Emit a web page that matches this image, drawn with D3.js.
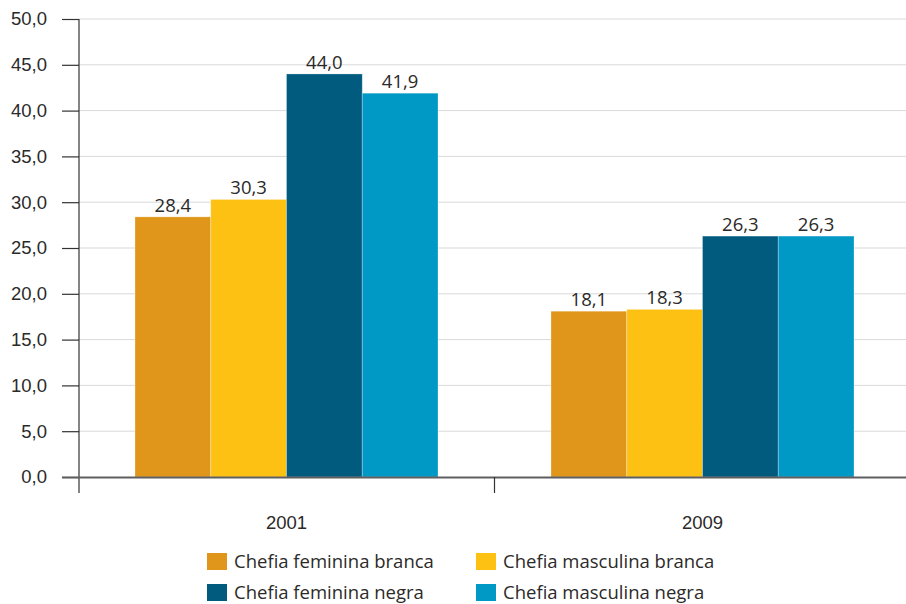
<!DOCTYPE html>
<html>
<head>
<meta charset="utf-8">
<script src="https://cdn.jsdelivr.net/npm/d3@7"></script>
<style>
  html, body { margin: 0; padding: 0; background: #fff; }
  svg { display: block; font-family: "Open Sans", "Noto Sans", sans-serif; }
</style>
</head>
<body>
<svg id="chart" width="906" height="604"></svg>
<script>
// Data
const years = ["2001", "2009"];
const seriesNames = [
  "Chefia feminina branca",
  "Chefia masculina branca",
  "Chefia feminina negra",
  "Chefia masculina negra"
];
const femininaBranca = [28.4, 18.1];
const masculinaBranca = [30.3, 18.3];
const femininaNegra = [44.0, 26.3];
const masculinaNegra = [41.9, 26.3];
const yTicks = [0, 5, 10, 15, 20, 25, 30, 35, 40, 45, 50];
const colors = ["#E0961A", "#FDC113", "#005B7F", "#0098C4"];

const seriesValues = [femininaBranca, masculinaBranca, femininaNegra, masculinaNegra];

const svg = d3.select("#chart");
const fmt = v => d3.format(".1f")(v).replace(".", ",");
const textColor = "#2b2a29";
const fontSize = "18.5px";

const x0 = d3.scaleBand().domain(years).range([78.5, 910.5]).paddingInner(0).paddingOuter(0);
const x1 = d3.scaleBand().domain(d3.range(seriesNames.length))
  .range([56.5, x0.bandwidth() - 56.5]).padding(0);
const y = d3.scaleLinear().domain([0, 50]).range([477, 19]);

// Grid lines
svg.append("g")
  .selectAll("line")
  .data(yTicks.filter(t => t > 0))
  .join("line")
  .attr("x1", 79).attr("x2", 906)
  .attr("y1", d => y(d)).attr("y2", d => y(d))
  .attr("stroke", "#d9d9d9").attr("stroke-width", 1);

// Y axis
const yAxis = d3.axisLeft(y).tickValues(yTicks).tickFormat(fmt).tickSize(17).tickPadding(15);
const gy = svg.append("g").attr("transform", "translate(79,0)").call(yAxis);
gy.select(".domain").remove();
gy.selectAll(".tick line").attr("stroke", "#333").attr("stroke-width", 1.2);
gy.selectAll(".tick text")
  .attr("fill", textColor).style("font-size", fontSize);
svg.append("line")
  .attr("x1", 79).attr("x2", 79).attr("y1", 19).attr("y2", 493)
  .attr("stroke", "#333").attr("stroke-width", 1.2);

// Bars
const groups = svg.append("g")
  .selectAll("g")
  .data(years)
  .join("g")
  .attr("transform", d => `translate(${x0(d)},0)`);

groups.selectAll("rect")
  .data((d, i) => seriesValues.map((s, k) => ({ k, v: s[i] })))
  .join("rect")
  .attr("x", d => x1(d.k))
  .attr("width", x1.bandwidth())
  .attr("y", d => y(d.v))
  .attr("height", d => y(0) - y(d.v))
  .attr("fill", d => colors[d.k])
  .attr("stroke", "#ffffff").attr("stroke-opacity", 0.35).attr("stroke-width", 0.8);

groups.selectAll("text")
  .data((d, i) => seriesValues.map((s, k) => ({ k, v: s[i] })))
  .join("text")
  .attr("x", d => x1(d.k) + x1.bandwidth() / 2)
  .attr("y", d => y(d.v) - 5)
  .attr("text-anchor", "middle")
  .attr("fill", textColor)
  .style("font-size", fontSize)
  .text(d => fmt(d.v));

// X axis baseline and category ticks
svg.append("line")
  .attr("x1", 62).attr("x2", 906).attr("y1", 477.5).attr("y2", 477.5)
  .attr("stroke", "#5f5f5f").attr("stroke-width", 2);
const xAxis = d3.axisBottom(x0).tickSize(0).tickPadding(0);
const gx = svg.append("g").attr("transform", "translate(0,477)").call(xAxis);
gx.select(".domain").remove();
gx.selectAll(".tick text")
  .attr("y", 52)
  .attr("dy", 0)
  .attr("fill", textColor)
  .style("font-size", fontSize);
svg.append("line")
  .attr("x1", x0("2009")).attr("x2", x0("2009"))
  .attr("y1", 477).attr("y2", 493)
  .attr("stroke", "#333").attr("stroke-width", 1.2);

// Legend (two rows, two columns)
const legendPos = [
  { x: 207, y: 553 }, { x: 476, y: 553 },
  { x: 207, y: 584 }, { x: 476, y: 584 }
];
const legend = svg.append("g")
  .selectAll("g")
  .data(seriesNames)
  .join("g")
  .attr("transform", (d, i) => `translate(${legendPos[i].x},${legendPos[i].y})`);
legend.append("rect")
  .attr("width", 20).attr("height", 17)
  .attr("fill", (d, i) => colors[i]);
legend.append("text")
  .attr("x", 27).attr("y", 15)
  .attr("fill", textColor)
  .style("font-size", fontSize)
  .text(d => d);
</script>
</body>
</html>
